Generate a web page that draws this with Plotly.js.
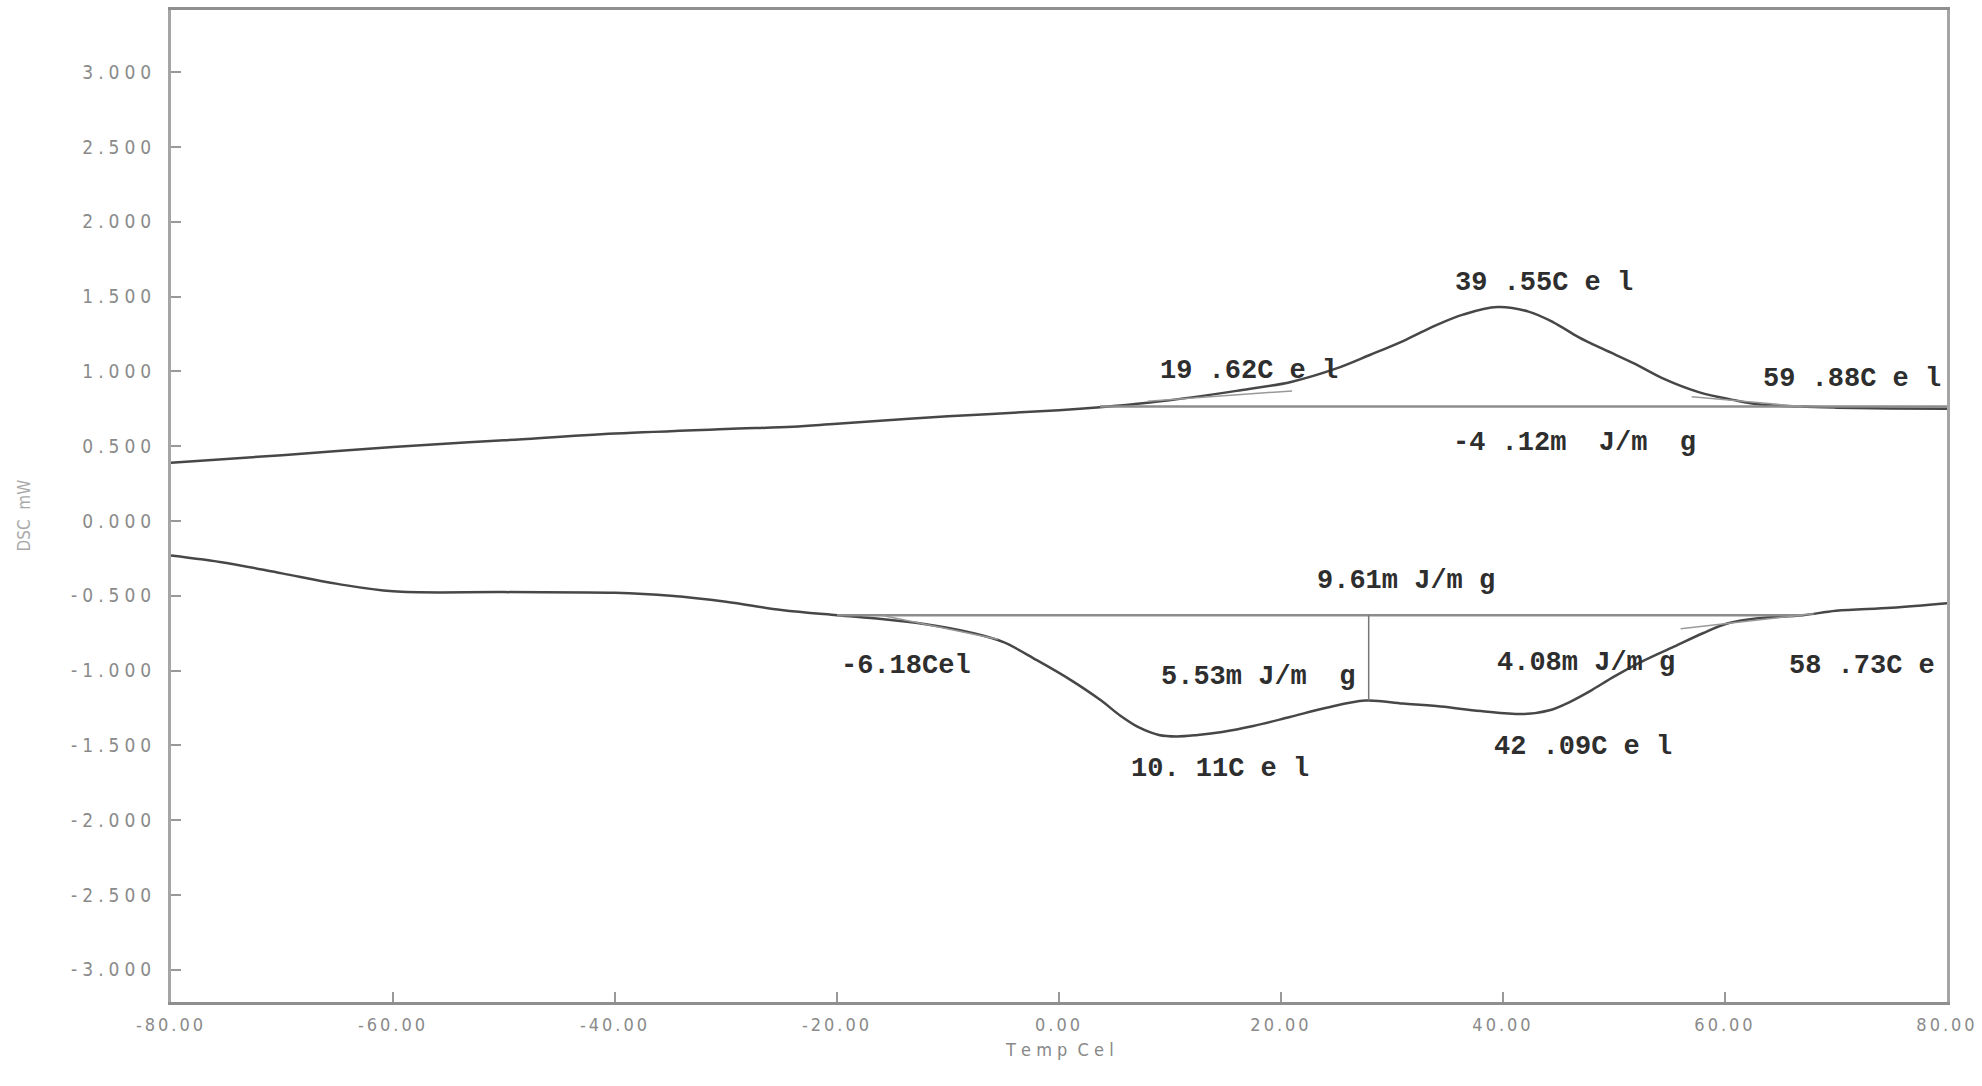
<!DOCTYPE html>
<html>
<head>
<meta charset="utf-8">
<script src="https://cdn.plot.ly/plotly-3.0.1.min.js"></script>
<style>
  html, body { margin: 0; padding: 0; background: #fff; }
  #dsc { width: 1982px; height: 1086px; }
  .xtick text { letter-spacing: 3px; }
  .ytick text { letter-spacing: 5px; }
</style>
</head>
<body>
<div id="dsc"></div>
<script>
// heating run (upper trace), temperature in Cel, signal in mW
var upperTemp = [-80, -70, -60, -50, -40, -30, -24, -20, -10, 0, 3.7, 8, 12.3, 16, 20.9, 25, 28, 31.2, 34, 36.4, 39.5, 42.3, 44.5, 46.8, 49, 51.9, 54.5, 57.7, 60.7, 63, 66.7, 70, 75, 80];
var upperSignal = [0.39, 0.44, 0.495, 0.54, 0.585, 0.615, 0.63, 0.65, 0.70, 0.74, 0.76, 0.79, 0.83, 0.87, 0.93, 1.02, 1.11, 1.21, 1.31, 1.38, 1.43, 1.40, 1.33, 1.23, 1.15, 1.05, 0.95, 0.86, 0.81, 0.78, 0.765, 0.758, 0.752, 0.75];

// cooling run (lower trace)
var lowerTemp = [-80, -75, -70, -65, -60, -50, -40, -35, -30, -25, -20, -16, -12, -8, -5, -2, 1, 3.8, 5.5, 7.2, 9, 10.6, 12.5, 14.7, 17.5, 20.8, 24, 27.6, 31, 34.4, 38, 41.9, 44.2, 46, 48, 50, 52.5, 55.4, 58, 60.2, 63, 67, 70, 75, 80];
var lowerSignal = [-0.23, -0.28, -0.35, -0.42, -0.47, -0.475, -0.48, -0.50, -0.54, -0.595, -0.63, -0.655, -0.69, -0.745, -0.81, -0.93, -1.06, -1.20, -1.30, -1.38, -1.43, -1.44, -1.43, -1.41, -1.37, -1.31, -1.25, -1.20, -1.22, -1.24, -1.27, -1.29, -1.265, -1.21, -1.13, -1.04, -0.94, -0.84, -0.75, -0.685, -0.65, -0.63, -0.60, -0.58, -0.55];

// analysis constructions: baselines, tangents, partition line
var upperBaseTemp = [3.7, 80];
var upperBaseSignal = [0.765, 0.765];
var lowerBaseTemp = [-20, 67];
var lowerBaseSignal = [-0.63, -0.63];
var splitTemp = [27.9, 27.9];
var splitSignal = [-0.63, -1.20];
var tangentTemp = [[8, 21], [57, 67], [-16, -5.5], [56, 68]];
var tangentSignal = [[0.80, 0.87], [0.83, 0.765], [-0.63, -0.79], [-0.72, -0.62]];

// labels written on the chart
var labelText = ["39 .55C e l", "19 .62C e l", "59 .88C e l", "-4 .12m\u00a0 J/m\u00a0 g",
                 "9.61m\u00a0J/m\u00a0g", "-6.18Cel", "5.53m\u00a0J/m\u00a0 g", "4.08m\u00a0J/m\u00a0g",
                 "58 .73C e", "10. 11C e l", "42 .09C e l"];
var labelTemp = [43.7, 17.1, 71.4, 46.4, 31.3, -13.8, 17.9, 47.5, 72.3, 14.5, 47.2];
var labelSignal = [1.59, 1.00, 0.95, 0.52, -0.40, -0.97, -1.04, -0.95, -0.97, -1.66, -1.51];

// axis ticks
var xTickVals = [-80, -60, -40, -20, 0, 20, 40, 60, 80];
var xTickText = ["-80.00", "-60.00", "-40.00", "-20.00", "0.00", "20.00", "40.00", "60.00", "80.00"];
var yTickVals = [3, 2.5, 2, 1.5, 1, 0.5, 0, -0.5, -1, -1.5, -2, -2.5, -3];
var yTickText = ["3.000", "2.500", "2.000", "1.500", "1.000", "0.500", "0.000", "-0.500", "-1.000", "-1.500", "-2.000", "-2.500", "-3.000"];

var curveLine = {color: "#474747", width: 2.5, shape: "spline", smoothing: 1};
var baseLine = {color: "#8c8c8c", width: 2.5};

var traces = [
  {x: upperTemp, y: upperSignal, mode: "lines", line: curveLine},
  {x: lowerTemp, y: lowerSignal, mode: "lines", line: curveLine},
  {x: upperBaseTemp, y: upperBaseSignal, mode: "lines", line: baseLine},
  {x: lowerBaseTemp, y: lowerBaseSignal, mode: "lines", line: baseLine},
  {x: splitTemp, y: splitSignal, mode: "lines", line: {color: "#777", width: 1.5}}
];
tangentTemp.forEach(function (t, i) {
  traces.push({x: t, y: tangentSignal[i], mode: "lines", line: {color: "#999", width: 1.5}});
});

var labelFont = {family: "Liberation Mono, DejaVu Sans Mono, monospace", size: 27, color: "#2e2e2e", weight: "bold"};
var annotations = labelText.map(function (txt, i) {
  return {x: labelTemp[i], y: labelSignal[i], xref: "x", yref: "y", text: txt,
          showarrow: false, font: labelFont, xanchor: "center", yanchor: "middle"};
});
var tickFont = {family: "Liberation Sans Narrow, DejaVu Sans Condensed, sans-serif", size: 19, color: "#8a8a8a"};
annotations.push({xref: "paper", yref: "paper", x: 0.5, y: -0.048, text: "T e m p  C e l",
                  showarrow: false, font: {family: tickFont.family, size: 18, color: "#888"},
                  xanchor: "center", yanchor: "middle"});
annotations.push({xref: "paper", yref: "paper", x: -0.083, y: 0.49, text: "DSC  mW", textangle: -90,
                  showarrow: false, font: {family: tickFont.family, size: 17, color: "#aaa"},
                  xanchor: "center", yanchor: "middle"});

var layout = {
  width: 1982,
  height: 1086,
  margin: {l: 171, r: 35, t: 10, b: 84},
  paper_bgcolor: "#fff",
  plot_bgcolor: "#fff",
  showlegend: false,
  xaxis: {
    range: [-80, 80],
    tickvals: xTickVals,
    ticktext: xTickText,
    ticks: "inside",
    ticklen: 10,
    tickcolor: "#999",
    tickwidth: 2,
    ticklabelstandoff: 4,
    ticklabeloverflow: "allow",
    showgrid: false,
    zeroline: false,
    showline: true,
    mirror: true,
    linecolor: "#8f8f8f",
    linewidth: 3,
    tickfont: {family: tickFont.family, size: 18, color: tickFont.color}
  },
  yaxis: {
    range: [-3.215, 3.416],
    tickvals: yTickVals,
    ticktext: yTickText,
    ticks: "inside",
    ticklen: 10,
    tickcolor: "#999",
    tickwidth: 2,
    ticklabelstandoff: 8,
    showgrid: false,
    zeroline: false,
    showline: true,
    mirror: true,
    linecolor: "#a5a5a5",
    linewidth: 3,
    tickfont: tickFont
  },
  annotations: annotations
};

Plotly.newPlot("dsc", traces, layout, {staticPlot: true, displayModeBar: false});
</script>
</body>
</html>
